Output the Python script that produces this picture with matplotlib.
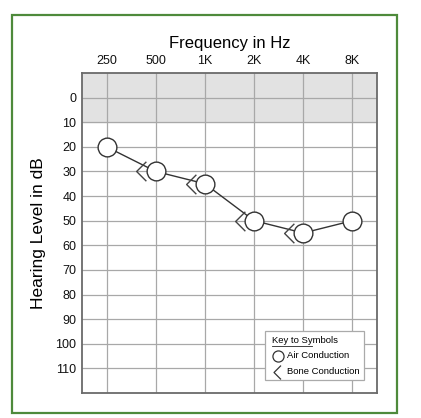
import numpy as np
import matplotlib.pyplot as plt
from matplotlib.patches import Rectangle
from matplotlib.path import Path

plt.rcParams['font.family'] = ['Liberation Sans', 'DejaVu Sans']

# audiogram values
freqs = ["250", "500", "1K", "2K", "4K", "8K"]
air_db = [20, 30, 35, 50, 55, 50]
bone_freqs = ["500", "1K", "2K", "4K"]
bone_db = [30, 35, 50, 55]
db_ticks = [0, 10, 20, 30, 40, 50, 60, 70, 80, 90, 100, 110]

bone_marker = Path([(0.5, 1.0), (-0.5, 0.0), (0.5, -1.0)],
                   [Path.MOVETO, Path.LINETO, Path.LINETO])

fig = plt.figure(figsize=(4.21, 4.18), dpi=100)
W, H = 421, 418

# green frame
fig.patches.append(Rectangle((12 / W, 1 - 413 / H), 385 / W, 398 / H,
                             transform=fig.transFigure, fill=False,
                             edgecolor='#4e8a3b', linewidth=1.6))

ax = fig.add_axes([82 / W, 1 - 393 / H, 295 / W, 320 / H])

x = np.arange(len(freqs))
ax.set_xlim(-0.5, len(freqs) - 0.5)
ax.set_ylim(120, -10)

ax.axhspan(-10, 10, color='#e2e2e2', zorder=0)

ax.set_xticks(x)
ax.set_xticklabels(freqs)
ax.set_yticks(db_ticks)
ax.xaxis.tick_top()
ax.tick_params(length=0, labelsize=9, colors='#111111', pad=4)
ax.grid(True, color='#a8a8a8', linewidth=0.9, zorder=1)
for s in ax.spines.values():
    s.set_color('#6a6a6a')
    s.set_linewidth(1.3)

ax.plot(x, air_db, color='#333333', linewidth=1.0, marker='o', markersize=13.5,
        markerfacecolor='white', markeredgecolor='#333333', markeredgewidth=1.0,
        zorder=3)

bx = np.array([freqs.index(f) for f in bone_freqs]) - 0.29
ax.plot(bx, bone_db, linestyle='none', marker=bone_marker, markersize=14,
        markerfacecolor='none', markeredgecolor='#444444', markeredgewidth=1.0,
        zorder=3)

ax.set_title("Frequency in Hz", fontsize=12, pad=18)
ax.set_ylabel("Hearing Level in dB", fontsize=12.5, labelpad=7)

# key to symbols
ax.add_patch(Rectangle((0.62, 0.041), 0.336, 0.153, transform=ax.transAxes,
                       facecolor='white', edgecolor='#aaaaaa', linewidth=0.9,
                       zorder=4))
ax.text(0.644, 0.165, "Key to Symbols", transform=ax.transAxes, fontsize=6.8,
        va='center', ha='left', zorder=5)
ax.plot([0.644, 0.781], [0.146, 0.146], transform=ax.transAxes,
        color='#222222', linewidth=0.6, zorder=5)
ax.plot([0.665], [0.117], transform=ax.transAxes, marker='o', markersize=8,
        markerfacecolor='white', markeredgecolor='#333333',
        markeredgewidth=0.9, zorder=5)
ax.text(0.696, 0.117, "Air Conduction", transform=ax.transAxes, fontsize=6.8,
        va='center', ha='left', zorder=5)
ax.plot([0.662], [0.067], transform=ax.transAxes, marker=bone_marker,
        markersize=10, markerfacecolor='none', markeredgecolor='#333333',
        markeredgewidth=0.9, zorder=5)
ax.text(0.696, 0.067, "Bone Conduction", transform=ax.transAxes, fontsize=6.8,
        va='center', ha='left', zorder=5)

fig.savefig("out.png", dpi=100)
